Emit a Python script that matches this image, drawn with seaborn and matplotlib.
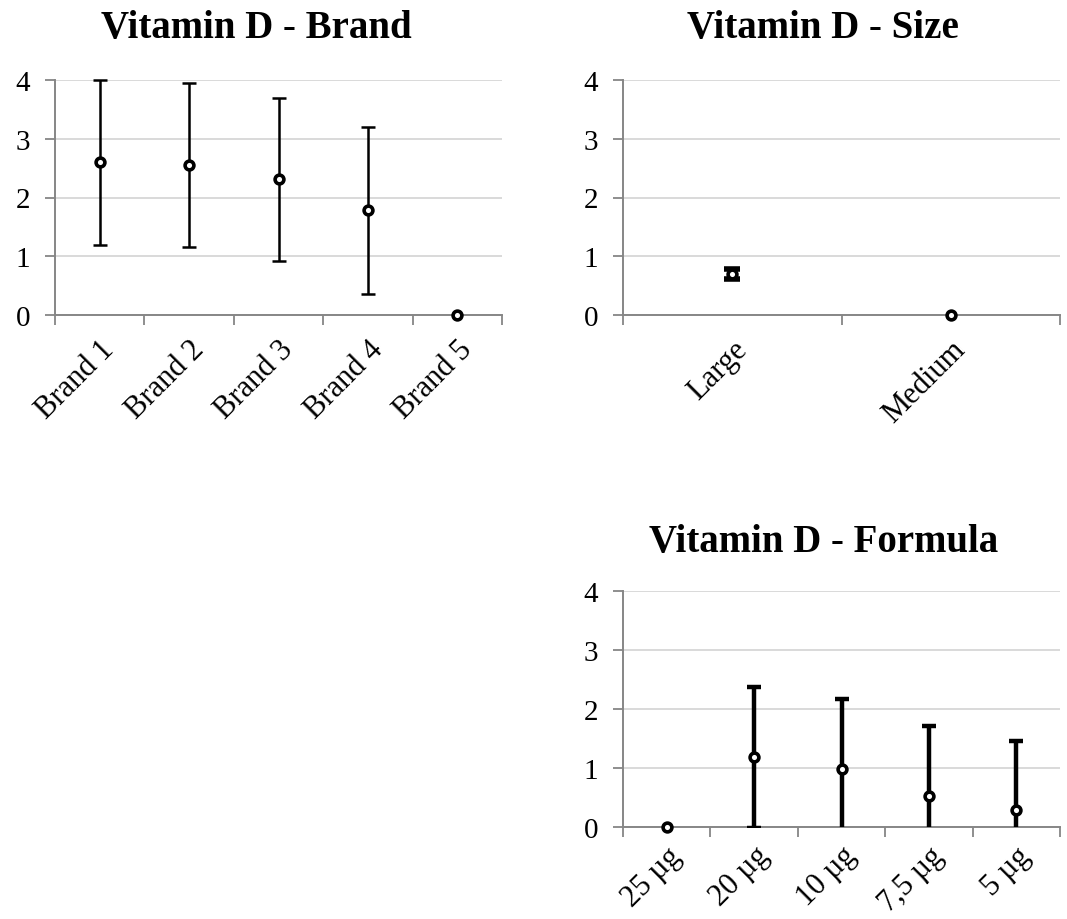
import numpy as np
import matplotlib
matplotlib.use("Agg")
import matplotlib.pyplot as plt
from matplotlib.ticker import FixedLocator, NullFormatter
import seaborn as sns

# Vitamin D scores with their error margins, by grouping
brand_labels = ["Brand 1", "Brand 2", "Brand 3", "Brand 4", "Brand 5"]
brand_means = [2.60, 2.55, 2.31, 1.78, 0.0]
brand_errs = [1.40, 1.40, 1.39, 1.42, 0.0]

size_labels = ["Large", "Medium"]
size_means = [0.70, 0.0]
size_errs = [0.08, 0.0]

formula_labels = ["25 µg", "20 µg", "10 µg", "7,5 µg", "5 µg"]
formula_means = [0.0, 1.18, 0.98, 0.53, 0.28]
formula_errs = [0.0, 1.19, 1.19, 1.19, 1.18]

sns.set_theme(style="white")
plt.rcParams["font.family"] = ["Liberation Serif", "DejaVu Serif"]
plt.rcParams["text.color"] = "black"
plt.rcParams["xtick.color"] = "black"
plt.rcParams["ytick.color"] = "black"

W, H = 1067, 920
fig = plt.figure(figsize=(W / 100, H / 100), dpi=100)


def px_axes(left, top, right, bottom):
    return fig.add_axes([left / W, 1 - bottom / H, (right - left) / W, (bottom - top) / H])


def panel(ax, title, labels, means, errs, bar_lw, cap_w, clip, title_pad, title_x,
          label_pad=14):
    n = len(labels)
    x = np.arange(n)
    means = np.asarray(means)
    errs = np.asarray(errs)
    has_err = errs > 0
    bars = ax.errorbar(x[has_err], means[has_err], yerr=errs[has_err],
                       fmt="none", ecolor="black", elinewidth=bar_lw, capsize=cap_w,
                       capthick=bar_lw, zorder=3)
    for artist in bars.lines[1] + bars.lines[2]:
        artist.set_clip_on(clip)
    sns.scatterplot(x=labels, y=means, ax=ax, marker="o", s=40,
                    facecolor="white", edgecolor="black", linewidth=2.6,
                    zorder=4, clip_on=False, legend=False)
    ax.set_xlim(-0.5, n - 0.5)
    ax.set_ylim(0, 4)
    ax.set_yticks([0, 1, 2, 3, 4])
    ax.yaxis.grid(True, color="#d9d9d9", linewidth=1.4)
    ax.set_axisbelow(True)
    ax.set_xticks(x)
    ax.set_xticklabels(labels, rotation=45, ha="right", rotation_mode="anchor",
                       fontsize=22)
    ax.xaxis.set_minor_locator(FixedLocator(np.arange(n + 1) - 0.5))
    ax.xaxis.set_minor_formatter(NullFormatter())
    ax.tick_params(axis="x", which="major", length=0, pad=label_pad)
    ax.tick_params(axis="x", which="minor", length=7, width=1.3, color="#868686",
                   direction="out", bottom=True)
    ax.tick_params(axis="y", length=7, width=1.3, color="#868686", direction="out",
                   left=True, labelsize=21, pad=11, labelcolor="black")
    for side in ("top", "right"):
        ax.spines[side].set_visible(False)
    for side in ("left", "bottom"):
        ax.spines[side].set_color("#868686")
        ax.spines[side].set_linewidth(1.4)
    ax.set_xlabel("")
    ax.set_ylabel("")
    ax.set_title(title, fontsize=28, fontweight="bold", pad=title_pad,
                 color="black", x=title_x)


ax1 = px_axes(55, 81, 502, 316)
panel(ax1, "Vitamin D - Brand", brand_labels, brand_means, brand_errs,
      1.8, 5, False, 31, 0.45)

ax2 = px_axes(623, 81, 1060, 316)
panel(ax2, "Vitamin D - Size", size_labels, size_means, size_errs,
      4.0, 6, False, 31, 0.458)

ax3 = px_axes(623, 592, 1060, 828)
panel(ax3, "Vitamin D - Formula", formula_labels, formula_means, formula_errs,
      3.2, 5, True, 29, 0.458, label_pad=10)

fig.savefig("out.png", dpi=100, facecolor="white")
